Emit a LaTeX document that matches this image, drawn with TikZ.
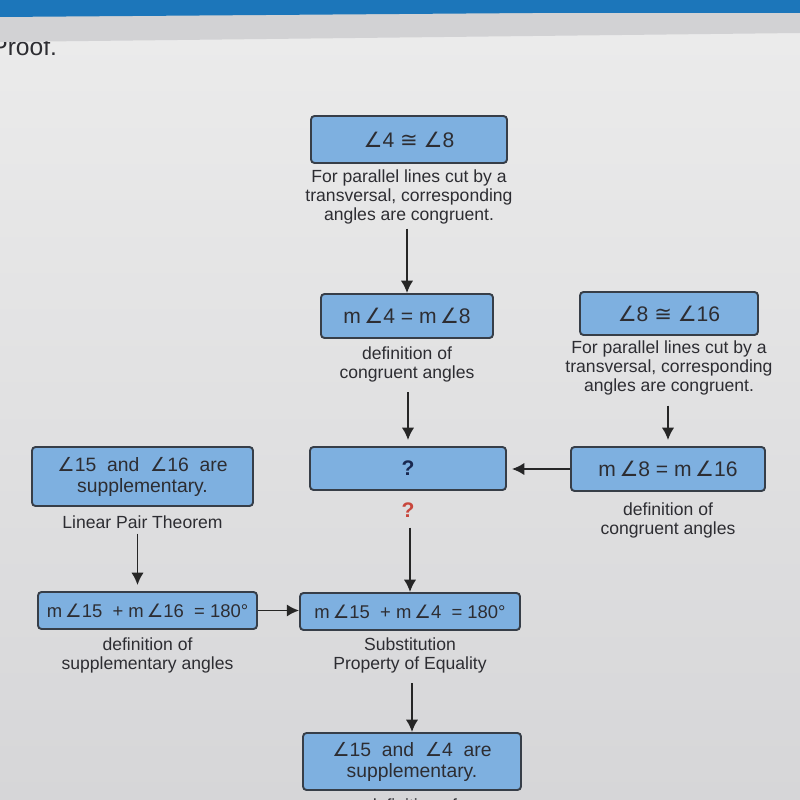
\documentclass[tikz,border=0pt]{standalone}
\usepackage{fontspec}
\setmainfont{Liberation Sans}
\newfontfamily\symfam{DejaVu Sans}
\usepackage{tikz}
\usetikzlibrary{arrows.meta,positioning}
\definecolor{ScreenTop}{RGB}{236,236,236}
\definecolor{ScreenBot}{RGB}{214,214,216}
\definecolor{BoxFill}{RGB}{126,176,224}
\definecolor{BoxEdge}{RGB}{55,62,72}
\definecolor{Ink}{RGB}{45,45,50}
\definecolor{Bar}{RGB}{28,118,186}
\definecolor{Band}{RGB}{210,210,212}
\definecolor{Mark}{RGB}{200,70,60}
\definecolor{Navy}{RGB}{25,40,80}
\newcommand{\angl}{{\symfam ∠}}
\newcommand{\cngr}{{\symfam ≅}}

\begin{document}
\begin{tikzpicture}[x=0.02cm, y=-0.02cm,
    proofbox/.style={draw=BoxEdge, line width=1.1pt, fill=BoxFill, rounded corners=2pt,
        inner sep=0pt, align=center, text=Ink, font=\fontsize{12}{14}\selectfont},
    reason/.style={align=center, inner sep=0pt, text=Ink, font=\fontsize{10}{11}\selectfont},
    flow/.style={-{Latex[length=7pt,width=7pt]}, line width=1pt, black!85}]
    %%Background
    \path[use as bounding box, clip] (0,0) rectangle (800,800);
    \shade[top color=ScreenTop, bottom color=ScreenBot] (0,0) rectangle (800,800);
    \node[anchor=west, inner sep=0pt, text=Ink, font=\fontsize{14}{16}\selectfont] (title) at (-9,47) {Proof.};
    \fill[Band] (0,15) -- (800,11) -- (800,33) -- (0,42) -- cycle;
    \fill[Bar] (0,0) rectangle (800,13) (0,13) -- (800,13) -- (800,11) -- (0,17) -- cycle;

    %% Boxes
    \node[proofbox, minimum width=3.92cm, minimum height=0.94cm] (boxA) at (409,139.5) {\angl4 \cngr\ \angl8};
    \node[proofbox, minimum width=3.44cm, minimum height=0.88cm] (boxB) at (407,316) {m\,\angl4 = m\,\angl8};
    \node[proofbox, minimum width=3.56cm, minimum height=0.86cm] (boxC) at (669,313.5) {\angl8 \cngr\ \angl16};
    \node[proofbox, minimum width=3.88cm, minimum height=0.88cm] (boxD) at (668,469) {m\,\angl8 = m\,\angl16};
    \node[proofbox, minimum width=3.92cm, minimum height=0.86cm, text=Navy, font=\fontsize{12}{14}\selectfont\bfseries] (boxQ) at (408,468.5) {?};
    \node[proofbox, minimum width=4.42cm, minimum height=1.18cm, font=\fontsize{11}{12}\selectfont] (boxE) at (142.5,476.5) {\angl15 \ and \ \angl16 \ are\\supplementary.};
    \node[proofbox, minimum width=4.38cm, minimum height=0.74cm, font=\fontsize{10.5}{12}\selectfont] (boxG) at (147.5,610.5) {m\,\angl15 \ + m\,\angl16 \ = 180°};
    \node[proofbox, minimum width=4.4cm, minimum height=0.74cm, font=\fontsize{10.5}{12}\selectfont] (boxF) at (410,611.5) {m\,\angl15 \ + m\,\angl4 \ = 180°};
    \node[proofbox, minimum width=4.36cm, minimum height=1.14cm, font=\fontsize{11}{12}\selectfont] (boxH) at (412,761.5) {\angl15 \ and \ \angl4 \ are\\supplementary.};

    %% Reasons
    \node[reason, below=0.1cm of boxA] (rsnA) {For parallel lines cut by a\\transversal, corresponding\\angles are congruent.};
    \node[reason, below=0.14cm of boxB] (rsnB) {definition of\\congruent angles};
    \node[reason, below=0.08cm of boxC] (rsnC) {For parallel lines cut by a\\transversal, corresponding\\angles are congruent.};
    \node[reason, below=0.2cm of boxD] (rsnD) {definition of\\congruent angles};
    \node[reason, below=0.16cm of boxE] (rsnE) {Linear Pair Theorem};
    \node[reason, below=0.14cm of boxG] (rsnG) {definition of\\supplementary angles};
    \node[reason, below=0.12cm of boxF] (rsnF) {Substitution\\Property of Equality};
    \node[reason, below=0.14cm of boxH] (rsnH) {definition of};
    \node[text=Mark, inner sep=0pt, font=\fontsize{12}{14}\selectfont\bfseries] (qmark) at (408,510) {?};

    %% Arrows
    \draw[flow] (rsnA.south -| boxB.north) ++(0,4) -- (boxB.north);
    \draw[flow] (rsnB.south -| boxQ.north) ++(0,10) -- ([yshift=0.12cm]boxQ.north);
    \draw[flow] (rsnC.south -| boxD.north) ++(0,10) -- ([yshift=0.12cm]boxD.north);
    \draw[flow] (boxD.west) -- ([xshift=0.1cm]boxD.west -| boxQ.east);
    \draw[flow] (qmark.south -| boxF.north) ++(0,10) -- (boxF.north);
    \draw[flow] ([xshift=-0.2cm]rsnE.south -| boxG.north) ++(0,5) -- ([xshift=-0.2cm, yshift=0.12cm]boxG.north);
    \draw[flow] (boxG.east) -- (boxG.east -| boxF.west);
    \draw[flow] (rsnF.south -| boxH.north) ++(0,10) -- (boxH.north);
\end{tikzpicture}
\end{document}
